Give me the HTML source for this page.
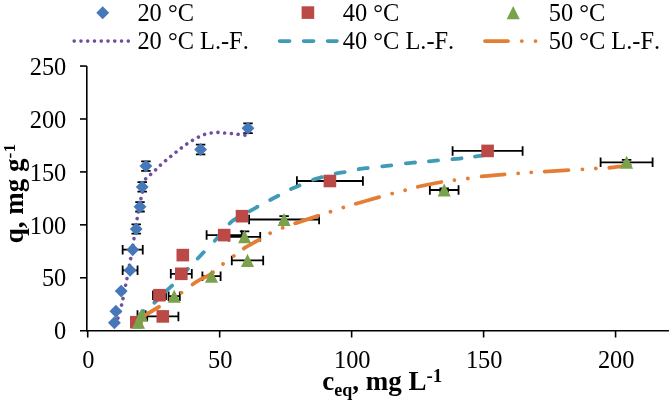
<!DOCTYPE html>
<html><head><meta charset="utf-8"><style>
html,body{margin:0;padding:0;background:#fff;}
body{width:669px;height:402px;overflow:hidden;font-family:"Liberation Serif",serif;}
svg{display:block;} text{font-kerning:none;font-feature-settings:"kern" 0;}
</style></head><body>
<div style="will-change:transform;width:669px;height:402px"><svg width="669" height="402" viewBox="0 0 669 402">
<rect width="669" height="402" fill="#fff"/>
<g stroke="#000" stroke-width="1.6" fill="none">
<path d="M86.80,66V331.50"/>
<path d="M80,330.70H669"/>
<path d="M80,277.77H86.80"/>
<path d="M80,224.84H86.80"/>
<path d="M80,171.91H86.80"/>
<path d="M80,118.98H86.80"/>
<path d="M80,66.05H86.80"/>
<path d="M87.70,330.70V337.5"/>
<path d="M219.67,330.70V337.5"/>
<path d="M351.64,330.70V337.5"/>
<path d="M483.61,330.70V337.5"/>
<path d="M615.58,330.70V337.5"/>
</g>
<g font-family="Liberation Serif" font-size="24.4" fill="#000">
<text x="66.3" y="339.40" text-anchor="end">0</text>
<text x="66.3" y="286.47" text-anchor="end">50</text>
<text x="66.3" y="233.54" text-anchor="end">100</text>
<text x="66.3" y="180.61" text-anchor="end">150</text>
<text x="66.3" y="127.68" text-anchor="end">200</text>
<text x="66.3" y="74.75" text-anchor="end">250</text>
<text x="88.30" y="368.1" text-anchor="middle">0</text>
<text x="220.27" y="368.1" text-anchor="middle">50</text>
<text x="352.24" y="368.1" text-anchor="middle">100</text>
<text x="484.21" y="368.1" text-anchor="middle">150</text>
<text x="616.18" y="368.1" text-anchor="middle">200</text>
</g>



<path d="M122.65,270.30H137.55M122.65,265.55V275.05M137.55,265.55V275.05" stroke="#000" stroke-width="1.8" fill="none"/>
<path d="M122.65,249.70H142.75M122.65,244.95V254.45M142.75,244.95V254.45" stroke="#000" stroke-width="1.8" fill="none"/>
<path d="M136.20,224.30V233.70M131.45,224.30H140.95M131.45,233.70H140.95" stroke="#000" stroke-width="1.8" fill="none"/>
<path d="M140.00,202.10V211.50M135.25,202.10H144.75M135.25,211.50H144.75" stroke="#000" stroke-width="1.8" fill="none"/>
<path d="M142.20,182.10V191.70M137.45,182.10H146.95M137.45,191.70H146.95" stroke="#000" stroke-width="1.8" fill="none"/>
<path d="M145.90,161.30V170.90M141.15,161.30H150.65M141.15,170.90H150.65" stroke="#000" stroke-width="1.8" fill="none"/>
<path d="M200.60,144.70V154.30M195.85,144.70H205.35M195.85,154.30H205.35" stroke="#000" stroke-width="1.8" fill="none"/>
<path d="M248.00,123.40V133.20M243.25,123.40H252.75M243.25,133.20H252.75" stroke="#000" stroke-width="1.8" fill="none"/>

<path d="M147.20,316.40H178.40M147.20,311.65V321.15M178.40,311.65V321.15" stroke="#000" stroke-width="1.8" fill="none"/>
<path d="M153.00,295.20H166.00M153.00,290.45V299.95M166.00,290.45V299.95" stroke="#000" stroke-width="1.8" fill="none"/>
<path d="M170.80,273.80H191.80M170.80,269.05V278.55M191.80,269.05V278.55" stroke="#000" stroke-width="1.8" fill="none"/>

<path d="M206.60,235.10H241.80M206.60,230.35V239.85M241.80,230.35V239.85" stroke="#000" stroke-width="1.8" fill="none"/>

<path d="M296.90,181.00H362.90M296.90,176.25V185.75M362.90,176.25V185.75" stroke="#000" stroke-width="1.8" fill="none"/>
<path d="M452.60,150.90H522.60M452.60,146.15V155.65M522.60,146.15V155.65" stroke="#000" stroke-width="1.8" fill="none"/>

<path d="M137.50,315.10H145.50M137.50,310.35V319.85M145.50,310.35V319.85" stroke="#000" stroke-width="1.8" fill="none"/>
<path d="M168.60,296.20H179.80M168.60,291.45V300.95M179.80,291.45V300.95" stroke="#000" stroke-width="1.8" fill="none"/>
<path d="M202.40,276.20H220.60M202.40,271.45V280.95M220.60,271.45V280.95" stroke="#000" stroke-width="1.8" fill="none"/>
<path d="M231.80,260.40H263.20M231.80,255.65V265.15M263.20,255.65V265.15" stroke="#000" stroke-width="1.8" fill="none"/>
<path d="M229.00,236.80H260.20M229.00,232.05V241.55M260.20,232.05V241.55" stroke="#000" stroke-width="1.8" fill="none"/><path d="M244.60,231.40V242.20M239.85,231.40H249.35M239.85,242.20H249.35" stroke="#000" stroke-width="1.8" fill="none"/>
<path d="M249.10,219.50H319.10M249.10,214.75V224.25M319.10,214.75V224.25" stroke="#000" stroke-width="1.8" fill="none"/><path d="M284.10,216.20V222.80M279.35,216.20H288.85M279.35,222.80H288.85" stroke="#000" stroke-width="1.8" fill="none"/>
<path d="M429.85,190.00H458.55M429.85,185.25V194.75M458.55,185.25V194.75" stroke="#000" stroke-width="1.8" fill="none"/><path d="M444.20,188.30V191.70M439.45,188.30H448.95M439.45,191.70H448.95" stroke="#000" stroke-width="1.8" fill="none"/>
<path d="M600.60,162.30H652.60M600.60,157.55V167.05M652.60,157.55V167.05" stroke="#000" stroke-width="1.8" fill="none"/><path d="M626.60,159.80V164.80M621.85,159.80H631.35M621.85,164.80H631.35" stroke="#000" stroke-width="1.8" fill="none"/>
<path d="M114.30,325.50 C114.92,324.22 116.77,321.30 118.00,317.80 C119.23,314.30 120.42,309.98 121.70,304.50 C122.98,299.02 124.20,292.58 125.70,284.90 C127.20,277.22 129.32,266.17 130.70,258.40 C132.08,250.63 132.92,245.02 134.00,238.30 C135.08,231.58 136.03,224.75 137.20,218.10 C138.37,211.45 139.98,203.33 141.00,198.40 C142.02,193.47 142.55,191.70 143.30,188.50 C144.05,185.30 144.30,181.53 145.50,179.20 C146.70,176.87 148.83,176.05 150.50,174.50 C152.17,172.95 153.88,171.43 155.50,169.90 C157.12,168.37 158.55,166.82 160.20,165.30 C161.85,163.78 163.68,162.27 165.40,160.80 C167.12,159.33 168.75,157.92 170.50,156.50 C172.25,155.08 174.10,153.72 175.90,152.30 C177.70,150.88 179.52,149.37 181.30,148.00 C183.08,146.63 184.78,145.35 186.60,144.10 C188.42,142.85 190.32,141.63 192.20,140.50 C194.08,139.37 195.93,138.28 197.90,137.30 C199.87,136.32 201.83,135.32 204.00,134.60 C206.17,133.88 208.65,133.37 210.90,133.00 C213.15,132.63 215.27,132.40 217.50,132.40 C219.73,132.40 222.03,132.82 224.30,133.00 C226.57,133.18 228.85,133.30 231.10,133.50 C233.35,133.70 235.55,133.93 237.80,134.20 C240.05,134.47 242.90,134.87 244.60,135.10 C246.30,135.33 247.43,135.52 248.00,135.60" fill="none" stroke="#6e4f9e" stroke-width="3.6" stroke-linecap="round" stroke-dasharray="0.01 6.75" stroke-dashoffset="-1.5"/>
<path d="M137.50,318.50 C138.48,317.25 140.45,313.75 143.40,311.00 C146.35,308.25 151.77,305.00 155.20,302.00 C158.63,299.00 161.12,295.80 164.00,293.00 C166.88,290.20 169.17,288.53 172.50,285.20 C175.83,281.87 179.95,277.28 184.00,273.00 C188.05,268.72 193.40,263.08 196.80,259.50 C200.20,255.92 201.33,254.70 204.40,251.50 C207.47,248.30 211.17,244.78 215.20,240.30 C219.23,235.82 225.25,228.15 228.60,224.60 C231.95,221.05 232.12,221.05 235.30,219.00 C238.48,216.95 243.78,214.47 247.70,212.30 C251.62,210.13 255.23,207.97 258.80,206.00 C262.37,204.03 265.70,202.30 269.10,200.50 C272.50,198.70 275.73,197.03 279.20,195.20 C282.67,193.37 286.33,191.20 289.90,189.50 C293.47,187.80 296.93,186.57 300.60,185.00 C304.27,183.43 308.17,181.45 311.90,180.10 C315.63,178.75 319.20,177.97 323.00,176.90 C326.80,175.83 330.95,174.53 334.70,173.70 C338.45,172.87 341.70,172.62 345.50,171.90 C349.30,171.18 353.62,170.07 357.50,169.40 C361.38,168.73 364.83,168.38 368.80,167.90 C372.77,167.42 377.42,166.95 381.30,166.50 C385.18,166.05 388.22,165.70 392.10,165.20 C395.98,164.70 400.58,163.97 404.60,163.50 C408.62,163.03 412.35,162.75 416.20,162.40 C420.05,162.05 423.87,161.75 427.70,161.40 C431.53,161.05 435.20,160.65 439.20,160.30 C443.20,159.95 447.87,159.65 451.70,159.30 C455.53,158.95 458.37,158.65 462.20,158.20 C466.03,157.75 471.03,157.12 474.70,156.60 C478.37,156.08 482.05,155.43 484.20,155.10 C486.35,154.77 487.03,154.68 487.60,154.60" fill="none" stroke="#3f9bb8" stroke-width="3.8" stroke-linecap="round" stroke-dasharray="7.70 13.60 9.20 6.40 9.20 13.90 9.20 13.85 9.20 15.75 9.20 13.30 9.20 14.35 9.20 14.45 9.20 14.40 9.20 14.70 9.20 14.20 9.20 14.20 9.20 14.55 9.20 14.65 9.20 13.95 9.20 14.40 9.20 13.50 9.20 2000.00" stroke-dashoffset="-1.90"/>
<path d="M138.50,319.00 C139.60,318.35 141.68,317.13 145.10,315.10 C148.52,313.07 154.85,309.40 159.00,306.80 C163.15,304.20 166.25,301.85 170.00,299.50 C173.75,297.15 177.85,295.13 181.50,292.70 C185.15,290.27 188.82,287.07 191.90,284.90 C194.98,282.73 196.87,281.52 200.00,279.70 C203.13,277.88 206.87,276.63 210.70,274.00 C214.53,271.37 219.15,266.90 223.00,263.90 C226.85,260.90 230.25,258.62 233.80,256.00 C237.35,253.38 240.12,250.88 244.30,248.20 C248.48,245.52 254.60,242.40 258.90,239.90 C263.20,237.40 266.15,235.23 270.10,233.20 C274.05,231.17 278.52,229.30 282.60,227.70 C286.68,226.10 288.62,225.60 294.60,223.60 C300.58,221.60 312.53,217.68 318.50,215.70 C324.47,213.72 326.32,213.05 330.40,211.70 C334.48,210.35 338.90,208.88 343.00,207.60 C347.10,206.32 348.90,205.77 355.00,204.00 C361.10,202.23 373.42,198.73 379.60,197.00 C385.78,195.27 387.85,194.72 392.10,193.60 C396.35,192.48 400.92,191.42 405.10,190.30 C409.28,189.18 411.07,188.30 417.20,186.90 C423.33,185.50 435.70,183.02 441.90,181.90 C448.10,180.78 450.08,180.77 454.40,180.20 C458.72,179.63 463.37,179.12 467.80,178.50 C472.23,177.88 474.78,177.18 481.00,176.50 C487.22,175.82 498.92,174.93 505.10,174.40 C511.28,173.87 513.77,173.65 518.10,173.30 C522.43,172.95 526.78,172.58 531.10,172.30 C535.42,172.02 537.68,171.97 544.00,171.60 C550.32,171.23 562.60,170.47 569.00,170.10 C575.40,169.73 577.95,169.67 582.40,169.40 C586.85,169.13 591.33,168.77 595.70,168.50 C600.07,168.23 604.33,168.17 608.60,167.80 C612.87,167.43 618.25,166.67 621.30,166.30 C624.35,165.93 625.97,165.72 626.90,165.60" fill="none" stroke="#e47e35" stroke-width="3.8" stroke-linecap="round" stroke-dasharray="22.70 14.29 0.01 12.29 0.01 13.69 24.20 12.80 0.01 13.39 0.01 12.49 17.80 12.60 0.01 13.69 0.01 13.40 23.70 13.30 0.01 13.49 0.01 13.20 24.00 13.60 0.01 13.39 0.01 13.30 23.80 13.30 0.01 13.49 0.01 14.09 22.80 13.69 0.01 13.09 0.01 13.59 23.60 14.10 0.01 13.39 0.01 13.59 24.20 2000.00" stroke-dashoffset="-1.10"/>
<path d="M114.40,316.25L120.85,322.70L114.40,329.15L107.95,322.70Z" fill="#4677b8"/>
<path d="M115.90,304.85L122.35,311.30L115.90,317.75L109.45,311.30Z" fill="#4677b8"/>
<path d="M121.20,284.65L127.65,291.10L121.20,297.55L114.75,291.10Z" fill="#4677b8"/>
<path d="M130.10,263.85L136.55,270.30L130.10,276.75L123.65,270.30Z" fill="#4677b8"/>
<path d="M132.70,243.25L139.15,249.70L132.70,256.15L126.25,249.70Z" fill="#4677b8"/>
<path d="M136.20,222.55L142.65,229.00L136.20,235.45L129.75,229.00Z" fill="#4677b8"/>
<path d="M140.00,200.35L146.45,206.80L140.00,213.25L133.55,206.80Z" fill="#4677b8"/>
<path d="M142.20,180.45L148.65,186.90L142.20,193.35L135.75,186.90Z" fill="#4677b8"/>
<path d="M145.90,159.65L152.35,166.10L145.90,172.55L139.45,166.10Z" fill="#4677b8"/>
<path d="M200.60,143.05L207.05,149.50L200.60,155.95L194.15,149.50Z" fill="#4677b8"/>
<path d="M248.00,121.85L254.45,128.30L248.00,134.75L241.55,128.30Z" fill="#4677b8"/>
<rect x="130.00" y="315.90" width="12.60" height="12.60" fill="#bb4a47"/>
<rect x="156.50" y="310.10" width="12.60" height="12.60" fill="#bb4a47"/>
<rect x="153.20" y="288.90" width="12.60" height="12.60" fill="#bb4a47"/>
<rect x="175.00" y="267.50" width="12.60" height="12.60" fill="#bb4a47"/>
<rect x="176.50" y="248.80" width="12.60" height="12.60" fill="#bb4a47"/>
<rect x="217.90" y="228.80" width="12.60" height="12.60" fill="#bb4a47"/>
<rect x="235.70" y="209.90" width="12.60" height="12.60" fill="#bb4a47"/>
<rect x="323.60" y="174.70" width="12.60" height="12.60" fill="#bb4a47"/>
<rect x="481.30" y="144.60" width="12.60" height="12.60" fill="#bb4a47"/>
<path d="M138.50,315.75L145.05,328.85L131.95,328.85Z" fill="#7aa24a"/>
<path d="M141.50,308.55L148.05,321.65L134.95,321.65Z" fill="#7aa24a"/>
<path d="M174.20,289.65L180.75,302.75L167.65,302.75Z" fill="#7aa24a"/>
<path d="M211.50,269.65L218.05,282.75L204.95,282.75Z" fill="#7aa24a"/>
<path d="M247.50,253.85L254.05,266.95L240.95,266.95Z" fill="#7aa24a"/>
<path d="M244.60,230.25L251.15,243.35L238.05,243.35Z" fill="#7aa24a"/>
<path d="M284.10,212.95L290.65,226.05L277.55,226.05Z" fill="#7aa24a"/>
<path d="M444.20,183.45L450.75,196.55L437.65,196.55Z" fill="#7aa24a"/>
<path d="M626.60,155.75L633.15,168.85L620.05,168.85Z" fill="#7aa24a"/>
<path d="M102.70,6.25L109.15,12.70L102.70,19.15L96.25,12.70Z" fill="#4677b8"/>
<rect x="301.60" y="6.30" width="12.60" height="12.60" fill="#bb4a47"/>
<path d="M513.20,6.05L519.75,19.15L506.65,19.15Z" fill="#7aa24a"/>
<path d="M74.2,41.1H129" fill="none" stroke="#6e4f9e" stroke-width="3.6" stroke-linecap="round" stroke-dasharray="0.01 6.75"/>
<path d="M279.6,41.1H337" fill="none" stroke="#3f9bb8" stroke-width="3.6" stroke-linecap="round" stroke-dasharray="10 14"/>
<path d="M485,41.1H536" fill="none" stroke="#e47e35" stroke-width="3.8" stroke-linecap="round" stroke-dasharray="23 13.8 0.01 13.7 0.01 20"/>
<g font-family="Liberation Serif" font-size="24.4" fill="#000">
<text x="137.4" y="20.8">20 °C</text>
<text x="137.4" y="49.4">20 °C L.-F.</text>
<text x="342.8" y="20.8">40 °C</text>
<text x="342.8" y="49.4">40 °C L.-F.</text>
<text x="548.7" y="20.8">50 °C</text>
<text x="548.7" y="49.4">50 °C L.-F.</text>
</g>
<text transform="translate(23.3,243.2) rotate(-90)" font-family="Liberation Serif" font-weight="bold" font-size="27.0">q, mg g<tspan font-size="17.5" dy="-8.2">-1</tspan></text>
<text x="322.3" y="389.5" font-family="Liberation Serif" font-weight="bold" font-size="27.0">c<tspan font-size="18" dy="6.5">eq</tspan><tspan dy="-6.5">, mg L</tspan><tspan font-size="19" dy="-7.7">-1</tspan></text>
</svg></div>
</body></html>
